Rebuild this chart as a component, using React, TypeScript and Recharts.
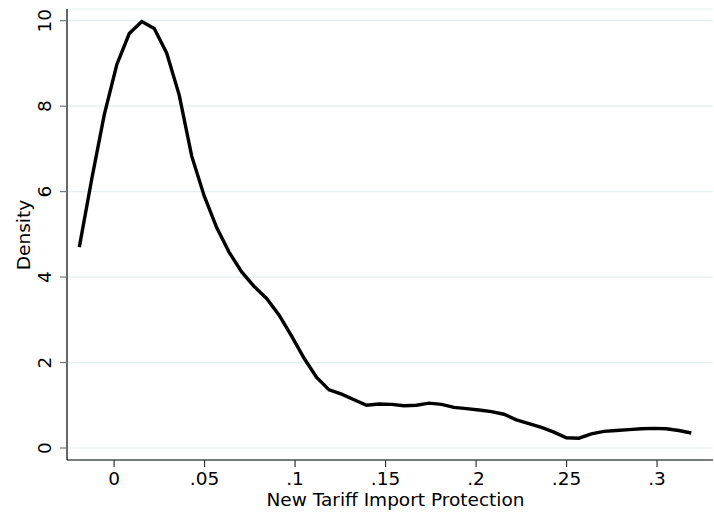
import React from 'react';
import { LineChart, Line, XAxis, YAxis, CartesianGrid } from 'recharts';

const xValues = [
  -0.0192, -0.0123, -0.0054, 0.0015, 0.0084, 0.0153, 0.0222, 0.0291, 0.036, 0.0429,
  0.0498, 0.0567, 0.0636, 0.0705, 0.0774, 0.0843, 0.0912, 0.0981, 0.105, 0.1119,
  0.1188, 0.1257, 0.1326, 0.1395, 0.1464, 0.1533, 0.1602, 0.1671, 0.174, 0.1809,
  0.1878, 0.1947, 0.2016, 0.2085, 0.2154, 0.2223, 0.2292, 0.2361, 0.243, 0.2499,
  0.2568, 0.2637, 0.2706, 0.2775, 0.2844, 0.2913, 0.2982, 0.3051, 0.312, 0.3189,
];

const densityValues = [
  4.7, 6.3, 7.8, 8.97, 9.7, 9.98, 9.82, 9.24, 8.26, 6.83,
  5.9, 5.16, 4.58, 4.12, 3.78, 3.5, 3.11, 2.62, 2.1, 1.65,
  1.36, 1.26, 1.13, 1.0, 1.03, 1.02, 0.99, 1.0, 1.05, 1.02,
  0.95, 0.92, 0.89, 0.85, 0.79, 0.66, 0.57, 0.48, 0.37, 0.24,
  0.23, 0.33, 0.39, 0.41, 0.43, 0.45, 0.46, 0.45, 0.41, 0.35,
];

const xTicks = [0, 0.05, 0.1, 0.15, 0.2, 0.25, 0.3];
const xTickLabels = ['0', '.05', '.1', '.15', '.2', '.25', '.3'];
const yTicks = [0, 2, 4, 6, 8, 10];
const yTickLabels = ['0', '2', '4', '6', '8', '10'];

const xTitle = 'New Tariff Import Protection';
const yTitle = 'Density';

const data = xValues.map((x, i) => ({ x, d: densityValues[i] }));

const FONT = '"DejaVu Sans", sans-serif';
const FS = 18.5;

const XTick = (props: any) => {
  const idx = xTicks.indexOf(props.payload.value);
  return (
    <text x={props.x} y={485} textAnchor="middle" fontFamily={FONT} fontSize={FS} fill="#000">
      {idx >= 0 ? xTickLabels[idx] : props.payload.value}
    </text>
  );
};

const YTick = (props: any) => {
  const idx = yTicks.indexOf(props.payload.value);
  const x = 51.5;
  return (
    <text
      x={x}
      y={props.y}
      transform={`rotate(-90, ${x}, ${props.y})`}
      textAnchor="middle"
      fontFamily={FONT}
      fontSize={FS}
      fill="#000"
    >
      {idx >= 0 ? yTickLabels[idx] : props.payload.value}
    </text>
  );
};

const XTitle = () => (
  <text x={395.5} y={505.7} textAnchor="middle" fontFamily={FONT} fontSize={FS} fill="#000">
    {xTitle}
  </text>
);

const YTitle = () => (
  <text
    x={30}
    y={235}
    transform="rotate(-90, 30, 235)"
    textAnchor="middle"
    fontFamily={FONT}
    fontSize={FS}
    fill="#000"
  >
    {yTitle}
  </text>
);

export default function App() {
  return (
    <div style={{ position: 'absolute', left: 0, top: 0, width: 714, height: 517, background: '#fff' }}>
      <LineChart width={714} height={517} data={data} margin={{ top: 9, right: 1, left: 0, bottom: 0 }}>
        <CartesianGrid vertical={false} stroke="#e4eef0" strokeWidth={1.2} />
        <XAxis
          dataKey="x"
          type="number"
          domain={[-0.026, 0.3309]}
          ticks={xTicks}
          allowDataOverflow
          height={57}
          tickSize={7}
          axisLine={{ stroke: '#000', strokeWidth: 1.2 }}
          tickLine={{ stroke: '#333', strokeWidth: 1.2 }}
          tick={<XTick />}
          label={<XTitle />}
          interval={0}
        />
        <YAxis
          type="number"
          domain={[-0.281, 10.274]}
          ticks={yTicks}
          allowDataOverflow
          width={67}
          tickSize={7}
          axisLine={{ stroke: '#000', strokeWidth: 1.2 }}
          tickLine={{ stroke: '#777', strokeWidth: 1.2 }}
          tick={<YTick />}
          label={<YTitle />}
          interval={0}
        />
        <Line
          dataKey="d"
          type="linear"
          stroke="#000"
          strokeWidth={3.4}
          dot={false}
          isAnimationActive={false}
        />
      </LineChart>
    </div>
  );
}
